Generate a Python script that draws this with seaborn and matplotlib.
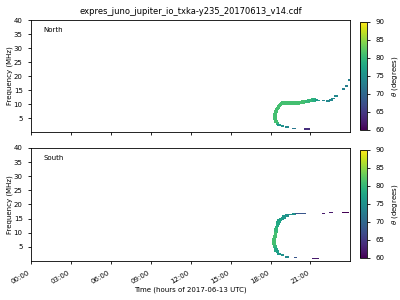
import numpy as np
import pandas as pd
import matplotlib
matplotlib.use("Agg")
import matplotlib.pyplot as plt
import matplotlib.dates as mdates
import seaborn as sns

# ---- data (hours of day, frequency MHz, theta degrees) ----
# continuous emission arcs
north_arc_hours = [18.50, 18.42, 18.36, 18.33, 18.32, 18.33, 18.36, 18.40, 18.45, 18.50,
                   18.58, 18.66, 18.75, 18.85, 18.95,
                   19.05, 19.15, 19.25, 19.35, 19.45, 19.55, 19.65, 19.75, 19.85, 19.95,
                   20.05, 20.15, 20.25, 20.35, 20.45, 20.55, 20.65, 20.75, 20.85, 20.95,
                   21.05, 21.15, 21.25]
north_arc_freq = [3.1, 3.7, 4.3, 4.9, 5.5, 6.1, 6.7, 7.3, 7.9, 8.5,
                  9.0, 9.5, 9.9, 10.1, 10.3,
                  10.4, 10.4, 10.4, 10.4, 10.4, 10.4, 10.4, 10.4, 10.4, 10.4,
                  10.4, 10.5, 10.5, 10.6, 10.7, 10.8, 10.9, 11.0, 11.1, 11.2,
                  11.3, 11.4, 11.5]
north_arc_theta = [80, 81, 81, 81, 81, 81, 81, 81, 81, 81,
                   81, 81, 81, 81, 81,
                   81, 81, 81, 81, 81, 81, 81, 81, 81, 81,
                   81, 81, 81, 81, 81, 81, 81, 80, 80, 80,
                   80, 80, 79]
# isolated points
north_dot_hours = [18.62, 18.88, 19.25, 19.75, 20.63, 20.80,
                   21.45, 21.60, 22.00, 22.33, 22.55, 22.70, 22.93, 23.50, 23.70, 23.95]
north_dot_freq = [2.5, 2.1, 1.7, 1.3, 1.0, 1.0,
                  11.4, 11.3, 11.2, 11.1, 11.4, 12.0, 12.9, 15.4, 16.5, 18.6]
north_dot_theta = [76, 75, 74, 72, 64, 64,
                   76, 76, 74, 74, 74, 74, 74, 73, 73, 73]

south_arc_hours = [19.25, 19.00, 18.88, 18.75, 18.62, 18.55, 18.50, 18.45, 18.42,
                   18.40, 18.38, 18.35, 18.32, 18.28, 18.25, 18.25, 18.25, 18.28,
                   18.32, 18.36, 18.42, 18.52]
south_arc_freq = [16.0, 15.6, 15.1, 14.6, 14.2, 13.5, 12.7, 11.9, 11.0,
                  10.4, 9.8, 9.2, 8.6, 8.0, 7.4, 6.8, 6.2, 5.7,
                  5.1, 4.5, 3.9, 3.3]
south_arc_theta = [75, 76, 76, 77, 77, 78, 78, 79, 80,
                   80, 81, 81, 81, 81, 81, 81, 81, 81,
                   80, 79, 78, 77]
south_dot_hours = [19.50, 19.75, 20.00, 20.10, 20.20, 20.30, 20.40, 20.50,
                   22.00, 22.55, 23.50, 23.62, 23.75,
                   18.62, 18.88, 19.25, 19.87,
                   21.25, 21.40, 21.50]
south_dot_freq = [16.5, 16.6, 16.9, 16.9, 16.9, 16.9, 16.9, 16.9,
                  16.9, 17.2, 17.2, 17.2, 17.2,
                  2.5, 2.1, 1.5, 1.3,
                  0.95, 0.95, 0.95]
south_dot_theta = [75, 75, 68, 68, 68, 68, 68, 68,
                   62, 62, 60, 60, 60,
                   76, 75, 74, 68,
                   62, 62, 62]

base = pd.Timestamp("2017-06-13")
def frame(h, f, t):
    return pd.DataFrame({"time": base + pd.to_timedelta(h, unit="h"),
                         "freq": f, "theta": t})

panels = [("North", frame(north_arc_hours, north_arc_freq, north_arc_theta),
           frame(north_dot_hours, north_dot_freq, north_dot_theta)),
          ("South", frame(south_arc_hours, south_arc_freq, south_arc_theta),
           frame(south_dot_hours, south_dot_freq, south_dot_theta))]

fig = plt.figure(figsize=(4, 3), dpi=100)
ax_pos = [[0.0775, 0.56, 0.7975, 0.3733], [0.0775, 0.13, 0.7975, 0.3767]]
cb_pos = [[0.90, 0.5667, 0.0175, 0.36], [0.90, 0.14, 0.0175, 0.36]]
norm = plt.Normalize(60, 90)
cmap = plt.get_cmap("viridis")
fs = 5
dash = [(-1.6, -0.7), (1.6, -0.7), (1.6, 0.7), (-1.6, 0.7)]

for i, (name, arc, dots) in enumerate(panels):
    ax = fig.add_axes(ax_pos[i])
    sns.scatterplot(data=arc, x="time", y="freq", hue="theta", palette="viridis",
                    hue_norm=(60, 90), marker="s", s=6, linewidth=0,
                    legend=False, ax=ax)
    sns.scatterplot(data=dots, x="time", y="freq", hue="theta", palette="viridis",
                    hue_norm=(60, 90), marker=dash, s=6, linewidth=0,
                    legend=False, ax=ax)
    ax.set_xlim(base, base + pd.Timedelta(hours=23.97))
    ax.set_ylim(0, 40)
    ax.set_yticks(range(5, 41, 5))
    ax.xaxis.set_major_locator(mdates.HourLocator(interval=3))
    ax.xaxis.set_major_formatter(mdates.DateFormatter("%H:%M"))
    ax.tick_params(labelsize=fs, length=2.5, width=0.6)
    for sp in ax.spines.values():
        sp.set_linewidth(0.6)
    ax.set_ylabel("Frequency (MHz)", fontsize=fs, labelpad=0.5)
    ax.text(0.038, 0.91, name, transform=ax.transAxes, fontsize=fs, va="center")
    if i == 0:
        ax.set_xlabel("")
        ax.tick_params(labelbottom=False)
        ax.set_title("expres_juno_jupiter_io_txka-y235_20170613_v14.cdf", fontsize=6, pad=4)
    else:
        ax.set_xlabel("Time (hours of 2017-06-13 UTC)", fontsize=fs, labelpad=1)
        for lab in ax.get_xticklabels():
            lab.set_rotation(30)
            lab.set_ha("right")
    cax = fig.add_axes(cb_pos[i])
    sm = matplotlib.cm.ScalarMappable(norm=norm, cmap=cmap)
    cb = fig.colorbar(sm, cax=cax)
    cb.set_ticks(range(60, 91, 5))
    cb.ax.tick_params(labelsize=fs, length=2.5, width=0.6)
    cb.outline.set_linewidth(0.6)
    cb.set_label(r"$\theta$ (degrees)", fontsize=fs)

fig.savefig("out.png", dpi=100)
